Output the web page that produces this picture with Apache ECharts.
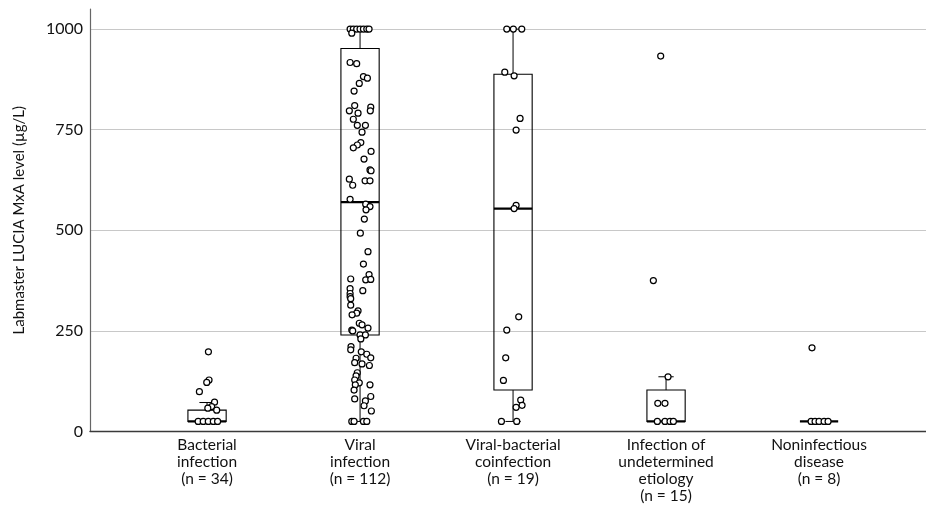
<!DOCTYPE html>
<html>
<head>
<meta charset="utf-8">
<style>html,body{margin:0;padding:0;background:#fff}#c{width:926px;height:508px}</style>
<script src="https://cdn.jsdelivr.net/npm/echarts@6/dist/echarts.min.js"></script>
</head>
<body>
<div id="c"></div>
<script>
const categories = ['Bacterial\ninfection\n(n = 34)', 'Viral\ninfection\n(n = 112)', 'Viral-bacterial\ncoinfection\n(n = 19)', 'Infection of\nundetermined\netiology\n(n = 15)', 'Noninfectious\ndisease\n(n = 8)'];
const yTicks = [0, 250, 500, 750, 1000];
const yTitle = 'Labmaster LUCIA MxA level (µg/L)';
// [min whisker, Q1, median, Q3, max whisker]
const boxStats = [
  [25, 25, 25, 53, 72],
  [25, 240, 570, 952, 1000],
  [25, 103, 554, 888, 1000],
  [25, 25, 25, 103, 136],
  [25, 25, 25, 25, 25]
];
const bacterialValues = [198,128,122,99,73,62,58,53,25,25,25,25,25];
const bacterialJitter = [0.009,0.013,-0.002,-0.05,0.049,0.03,0.005,0.063,-0.058,-0.025,0.008,0.041,0.069];
const viralValues = [1000,1000,1000,1000,1000,1000,1000,990,917,914,882,878,865,846,810,806,797,791,797,776,761,761,744,718,712,705,696,677,650,648,627,612,623,623,577,565,559,551,528,493,447,416,390,377,378,379,350,355,343,335,330,314,300,294,290,269,265,257,252,250,240,240,230,211,203,198,192,183,182,171,168,164,146,138,128,121,116,116,103,87,81,76,64,51,25,25,25,25];
const viralJitter = [-0.065,-0.044,-0.022,0,0.022,0.044,0.059,-0.054,-0.065,-0.022,0.022,0.048,-0.005,-0.039,-0.035,0.07,-0.07,-0.013,0.067,-0.044,-0.018,0.035,0.013,0.005,-0.018,-0.044,0.072,0.026,0.065,0.072,-0.07,-0.048,0.033,0.065,-0.065,0.037,0.065,0.039,0.028,0.002,0.052,0.022,0.059,0.037,0.07,-0.061,0.018,-0.065,-0.065,-0.065,-0.061,-0.061,-0.013,-0.022,-0.052,-0.005,0.013,0.052,-0.054,-0.048,0,0.035,0.005,-0.059,-0.061,0.008,0.044,0.07,-0.026,-0.035,0.013,0.061,-0.018,-0.026,-0.035,-0.005,-0.031,0.065,-0.039,0.07,-0.035,0.035,0.026,0.074,-0.054,-0.039,0.022,0.044];
const coinfValues = [1000,1000,1000,893,884,778,749,562,554,285,252,183,127,78,65,60,25,25];
const coinfJitter = [-0.041,0.002,0.057,-0.054,0.007,0.046,0.02,0.02,0.007,0.037,-0.041,-0.048,-0.063,0.05,0.059,0.02,-0.076,0.024];
const undetValues = [933,375,136,70,70,25,25,25,25];
const undetJitter = [-0.035,-0.083,0.013,-0.054,-0.007,-0.057,-0.007,0.026,0.048];
const nonInfValues = [208,25,25,25,25,25];
const nonInfJitter = [-0.046,-0.052,-0.026,0,0.033,0.059];

const groups = [
  [bacterialValues, bacterialJitter],
  [viralValues, viralJitter],
  [coinfValues, coinfJitter],
  [undetValues, undetJitter],
  [nonInfValues, nonInfJitter]
];
const pointData = [];
groups.forEach(function (g, i) {
  g[0].forEach(function (v, j) { pointData.push([i + 1 + g[1][j], v]); });
});
const boxData = boxStats.map(function (s, i) { return [i + 1].concat(s); });

const FONT = 'Lato, "Open Sans", sans-serif';
const chart = echarts.init(document.getElementById('c'), null, {renderer: 'canvas'});
chart.setOption({
  animation: false,
  backgroundColor: '#fff',
  grid: {left: 90, right: 0, top: 9, bottom: 76.5, containLabel: false, outerBoundsMode: 'none'},
  xAxis: {
    type: 'value', min: 0.235, max: 5.699,
    axisLine: {show: true, lineStyle: {color: '#3a3a3a', width: 1.4}},
    axisTick: {show: false},
    splitLine: {show: false},
    axisLabel: {
      customValues: [1, 2, 3, 4, 5],
      formatter: function (v) { return categories[Math.round(v) - 1]; },
      fontFamily: FONT, fontSize: 15.5, lineHeight: 17, color: '#111', margin: 5
    }
  },
  yAxis: {
    type: 'value', min: 0, max: 1050, interval: 250,
    name: yTitle, nameLocation: 'middle', nameGap: 63, nameRotate: 90,
    nameTextStyle: {fontFamily: FONT, fontSize: 15, color: '#111'},
    axisLine: {show: true, lineStyle: {color: '#666', width: 1.2}},
    axisTick: {show: false},
    axisLabel: {showMaxLabel: false, fontFamily: FONT, fontSize: 16, color: '#111', margin: 7,
      formatter: function (v) { return yTicks.indexOf(v) >= 0 ? String(v) : ''; }},
    splitLine: {show: true, showMinLine: false, showMaxLine: false, lineStyle: {color: '#c8c8c8', width: 1}}
  },
  series: [
    {
      type: 'custom',
      data: boxData,
      z: 2,
      renderItem: function (params, api) {
        const x = api.value(0);
        const mn = api.value(1), q1 = api.value(2), md = api.value(3), q3 = api.value(4), mx = api.value(5);
        const half = api.size([0.125, 0])[0];
        const capHalf = api.size([0.05, 0])[0];
        const pMin = api.coord([x, mn]), pQ1 = api.coord([x, q1]), pMd = api.coord([x, md]);
        const pQ3 = api.coord([x, q3]), pMax = api.coord([x, mx]);
        const cx = pMd[0];
        const st = {stroke: '#000', lineWidth: 1, fill: null};
        const ch = [];
        if (mx > q3) {
          ch.push({type: 'line', shape: {x1: cx, y1: pMax[1], x2: cx, y2: pQ3[1]}, style: st});
          ch.push({type: 'line', shape: {x1: cx - capHalf, y1: pMax[1], x2: cx + capHalf, y2: pMax[1]}, style: st});
        }
        if (mn < q1) {
          ch.push({type: 'line', shape: {x1: cx, y1: pMin[1], x2: cx, y2: pQ1[1]}, style: st});
          ch.push({type: 'line', shape: {x1: cx - capHalf, y1: pMin[1], x2: cx + capHalf, y2: pMin[1]}, style: st});
        }
        if (q3 > q1) {
          ch.push({type: 'rect', shape: {x: cx - half, y: pQ3[1], width: 2 * half, height: pQ1[1] - pQ3[1]},
            style: {stroke: '#000', lineWidth: 1.1, fill: 'rgba(255,255,255,0)'}});
        }
        ch.push({type: 'line', shape: {x1: cx - half, y1: pMd[1], x2: cx + half, y2: pMd[1]},
          style: {stroke: '#000', lineWidth: 2.2}});
        return {type: 'group', children: ch};
      }
    },
    {
      type: 'scatter',
      data: pointData,
      z: 3,
      symbol: 'circle',
      symbolSize: 6,
      itemStyle: {color: '#fff', borderColor: '#000', borderWidth: 1.2, opacity: 1}
    }
  ]
});
</script>
</body>
</html>
